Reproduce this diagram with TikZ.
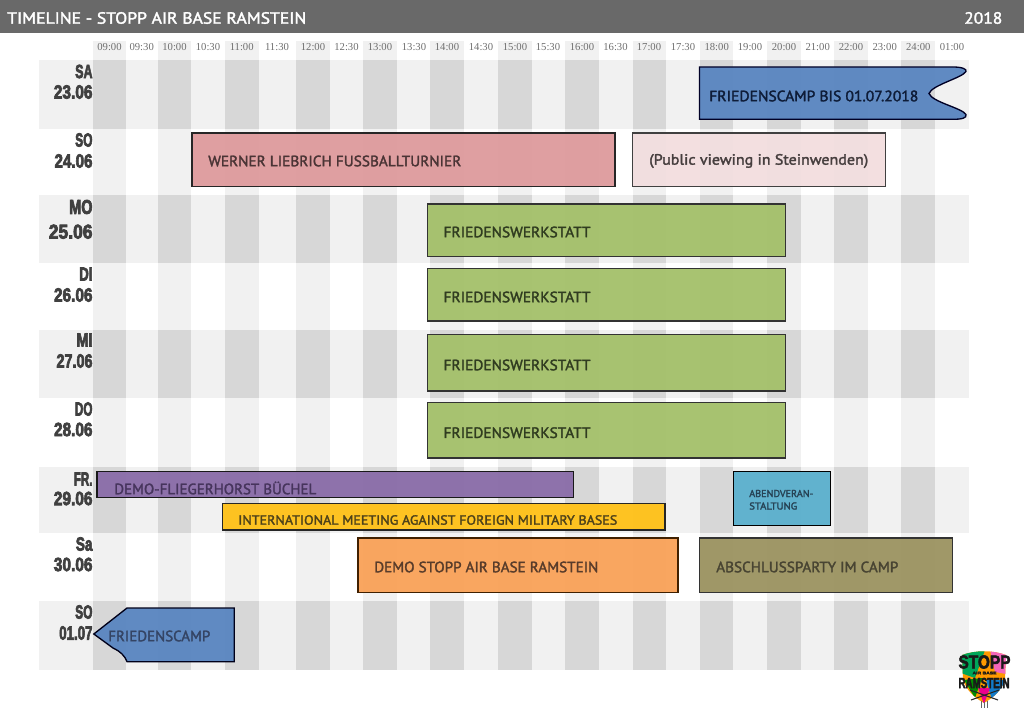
\documentclass[tikz,border=0pt]{standalone}
\usepackage{graphicx}
\usepackage{fontspec}
\setmainfont{Liberation Serif}
\newfontfamily\labfont[FakeBold=2]{PT Sans}
\newfontfamily\dayfont[FakeBold=4]{Liberation Sans Bold}
\newfontfamily\logofont[FakeBold=3]{Liberation Sans Bold}
\newcommand{\fitw}[2]{\resizebox{\dimexpr #1pt*3/4\relax}{\height}{#2}}
\definecolor{bar}{HTML}{696969}
\definecolor{pale}{HTML}{F1F1F1}
\definecolor{mid}{HTML}{D7D7D7}
\definecolor{daytext}{HTML}{404040}
\definecolor{timetext}{HTML}{6E6E6E}
\tikzset{
  evbox/.style={draw=#1,line width=1pt,fill opacity=.96,line join=miter},
  evlab/.style={anchor=west,inner sep=0pt,font=\labfont\fontsize{11.2}{13}\selectfont},
  daylab/.style={anchor=east,inner sep=0pt,text=daytext,font=\dayfont\fontsize{14.4}{16}\selectfont},
  timelab/.style={inner sep=0pt,text=timetext,font=\fontsize{8}{9}\selectfont}
}
\begin{document}
\begin{tikzpicture}[x=.75pt,y=-.75pt]
\useasboundingbox (0,0) rectangle (1024,724);
\fill[bar] (0,0) rectangle (1024,33);
\node[anchor=west,inner sep=0pt,text=white,font=\labfont\fontsize{12.2}{14}\selectfont] (title) at (7,18) {\fitw{299}{TIMELINE - STOPP AIR BASE RAMSTEIN}};
\node[anchor=west,inner sep=0pt,text=white,font=\labfont\fontsize{12.2}{14}\selectfont] (year) at (964,18) {\fitw{38}{2018}};
% shaded rows
\foreach \ya/\yb in {60.3/129,195.2/263.3,329.7/398.3,466.8/532.7,601.3/670}
  \fill[pale] (39,\ya) rectangle (969.3,\yb);
% columns, whole height
\foreach \xa/\xb in {93.4/125.8,157.7/191.3,225/258.7,296/329.7,363.3/397,430.3/464,498/531.7,565/598.7,632.7/666,699.7/733,767/800.7,834/867.7,901.3/935}{
  \fill[pale] (\xa,41) rectangle (\xb,670);
  \foreach \ya/\yb in {60.3/129,195.2/263.3,329.7/398.3,466.8/532.7,601.3/670}
    \fill[mid] (\xa,\ya) rectangle (\xb,\yb);
}
% time labels
\foreach \tm/\xp/\nm in {09:00/109.5/a,09:30/141.7/b,10:00/174.5/c,10:30/208/d,11:00/241.7/e,11:30/277/f,12:00/313/g,12:30/346.5/h,13:00/380/i,13:30/414/j,14:00/447/k,14:30/481/l,15:00/515/m,15:30/548/n,16:00/582/o,16:30/615.5/p,17:00/649/q,17:30/683/r,18:00/716.7/s,19:00/750/t,20:00/784/u,21:00/817.7/v,22:00/851/w,23:00/884.7/x,24:00/918.3/y,01:00/952/z}
  \node[timelab] (time\nm) at (\xp,47.5) {\tm};
% day labels
\foreach \nm/\dtxt/\wa/\ya/\dnum/\wb/\yb in {a/SA/17.3/71.5/23.06/38.7/92,b/SO/17.3/140/24.06/38/161,d/DI/13.3/274/26.06/38.5/295,e/MI/16/340/27.06/36/361,f/DO/17.7/409/28.06/38.5/429.5,g/FR./18.7/479/29.06/38.7/498.5,h/Sa/16.7/544/30.06/38.7/564.5,i/SO/17.3/612/01.07/33.3/633}{
  \node[daylab] (day\nm) at (92.8,\ya) {\fitw{\wa}{\dtxt}};
  \node[daylab] (date\nm) at (92.8,\yb) {\fitw{\wb}{\dnum}};
}
\node[daylab,font=\dayfont\fontsize{15}{17}\selectfont] (dayc) at (92.8,207) {\fitw{23.3}{MO}};
\node[daylab,font=\dayfont\fontsize{15}{17}\selectfont] (datec) at (92.8,231.7) {\fitw{43.7}{25.06}};
% events
\path[evbox=black!85!blue,fill={rgb,255:red,91;green,134;blue,193}] (699.5,67) -- (953,67) .. controls (962,67) and (967,69) .. (966,71.5) .. controls (962,78) and (932,85) .. (929,93.5) .. controls (932,102) and (962,108) .. (966,114.5) .. controls (967,118) and (962,119.3) .. (953,119.3) -- (699.5,119.3) -- cycle;
\node[evlab,text={rgb,255:red,14;green,28;blue,56}] (ev1) at (709,96) {\fitw{209}{FRIEDENSCAMP BIS 01.07.2018}};
\path[evbox=black!85,fill={rgb,255:red,222;green,155;blue,157}] (192,133) rectangle (615,186.3);
\node[evlab,text={rgb,255:red,74;green,52;blue,53}] (ev2) at (208,161) {\fitw{253}{WERNER LIEBRICH FUSSBALLTURNIER}};
\path[evbox=black!75,fill={rgb,255:red,242;green,222;blue,223}] (632.7,133) rectangle (885.7,186.3);
\node[evlab,text={rgb,255:red,70;green,62;blue,62}] (ev3) at (649,161) {\fitw{219}{(Public viewing in Steinwenden)}};
\foreach \nm/\ya/\yb/\ym in {4/204/256.3/232,5/268.7/321/297,6/334.3/391/365,7/402.7/458/432.7}{
  \path[evbox=black!80,fill={rgb,255:red,164;green,193;blue,107}] (427.4,\ya) rectangle (785.7,\yb);
  \node[evlab,text={rgb,255:red,48;green,60;blue,32}] (ev\nm) at (443.3,\ym) {\fitw{147}{FRIEDENSWERKSTATT}};
}
\path[evbox=black!90,fill={rgb,255:red,138;green,109;blue,169}] (97,471.3) rectangle (573.7,497.7);
\node[evlab,text={rgb,255:red,70;green,52;blue,92}] (ev8) at (114,488) {\fitw{202}{DEMO-FLIEGERHORST BÜCHEL}};
\path[evbox=black!85,fill={rgb,255:red,255;green,194;blue,26}] (222.5,503.7) rectangle (665,530);
\node[evlab,text={rgb,255:red,78;green,66;blue,26},font=\labfont\fontsize{10}{12}\selectfont] (ev9) at (238,520) {\fitw{379}{INTERNATIONAL MEETING AGAINST FOREIGN MILITARY BASES}};
\path[evbox=black,fill={rgb,255:red,92;green,176;blue,205}] (733.3,471.3) rectangle (830.3,525.3);
\node[evlab,text={rgb,255:red,38;green,66;blue,84},font=\labfont\fontsize{7.5}{9}\selectfont] (ev10a) at (749,493.5) {\fitw{64}{ABENDVERAN-}};
\node[evlab,text={rgb,255:red,38;green,66;blue,84},font=\labfont\fontsize{7.5}{9}\selectfont] (ev10b) at (749,506) {\fitw{48}{STALTUNG}};
\path[evbox=black!75!orange,fill={rgb,255:red,249;green,162;blue,90}] (358,538) rectangle (678,592.7);
\node[evlab,text={rgb,255:red,88;green,60;blue,42}] (ev11) at (374,567) {\fitw{224}{DEMO STOPP AIR BASE RAMSTEIN}};
\path[evbox=black!80,fill={rgb,255:red,156;green,148;blue,98}] (699.3,538) rectangle (952.7,592.7);
\node[evlab,text={rgb,255:red,72;green,68;blue,50}] (ev12) at (716,567) {\fitw{182}{ABSCHLUSSPARTY IM CAMP}};
\path[evbox=black!90!blue,fill={rgb,255:red,91;green,134;blue,193}] (93.8,634) -- (127,608) -- (234.3,608) -- (234.3,661.7) -- (127,661.7) .. controls (125,656) and (120,651) .. (113,648) -- cycle;
\node[evlab,text={rgb,255:red,52;green,68;blue,100}] (ev13) at (108,636) {\fitw{102}{FRIEDENSCAMP}};
% logo
\begin{scope}
\clip (962,655) .. controls (975,650) and (993,650) .. (1006,655) -- (1005,680) .. controls (1002,690) and (993,698) .. (984,703) .. controls (975,698) and (966,690) .. (963,680) -- cycle;
\fill[orange!80!yellow] (955,650) rectangle (1015,710);
\fill[teal!70!green] (958,650) -- (985,650) -- (975,678) -- (958,672) -- cycle;
\fill[magenta!60] (990,650) -- (1012,650) -- (1012,675) -- (995,672) -- cycle;
\fill[green!55!black] (964,680) -- (982,678) -- (975,698) -- cycle;
\fill[cyan!60!blue] (986,680) -- (1008,680) -- (992,700) -- cycle;
\fill[magenta] (978,688) -- (990,688) -- (984,704) -- cycle;
\end{scope}
\draw[black!85,line width=.8pt] (970,690) -- (998,700);
\draw[black!85,line width=.8pt] (999,690) -- (971,700);
\draw[black!60,line width=.5pt] (981,701) -- (981,708) (984,702) -- (984,708) (987,701) -- (987,708);
\node[inner sep=0pt,text=black!90,font=\logofont\fontsize{14}{14}\selectfont] (logo1) at (984.5,662) {\fitw{52}{STOPP}};
\node[inner sep=0pt,text=black!90,font=\logofont\fontsize{3}{3}\selectfont] (logo2) at (984.5,673) {\fitw{24}{AIR BASE}};
\node[inner sep=0pt,text=black!90,font=\logofont\fontsize{11}{11}\selectfont] (logo3) at (984,683) {\fitw{51}{RAMSTEIN}};
\end{tikzpicture}
\end{document}
